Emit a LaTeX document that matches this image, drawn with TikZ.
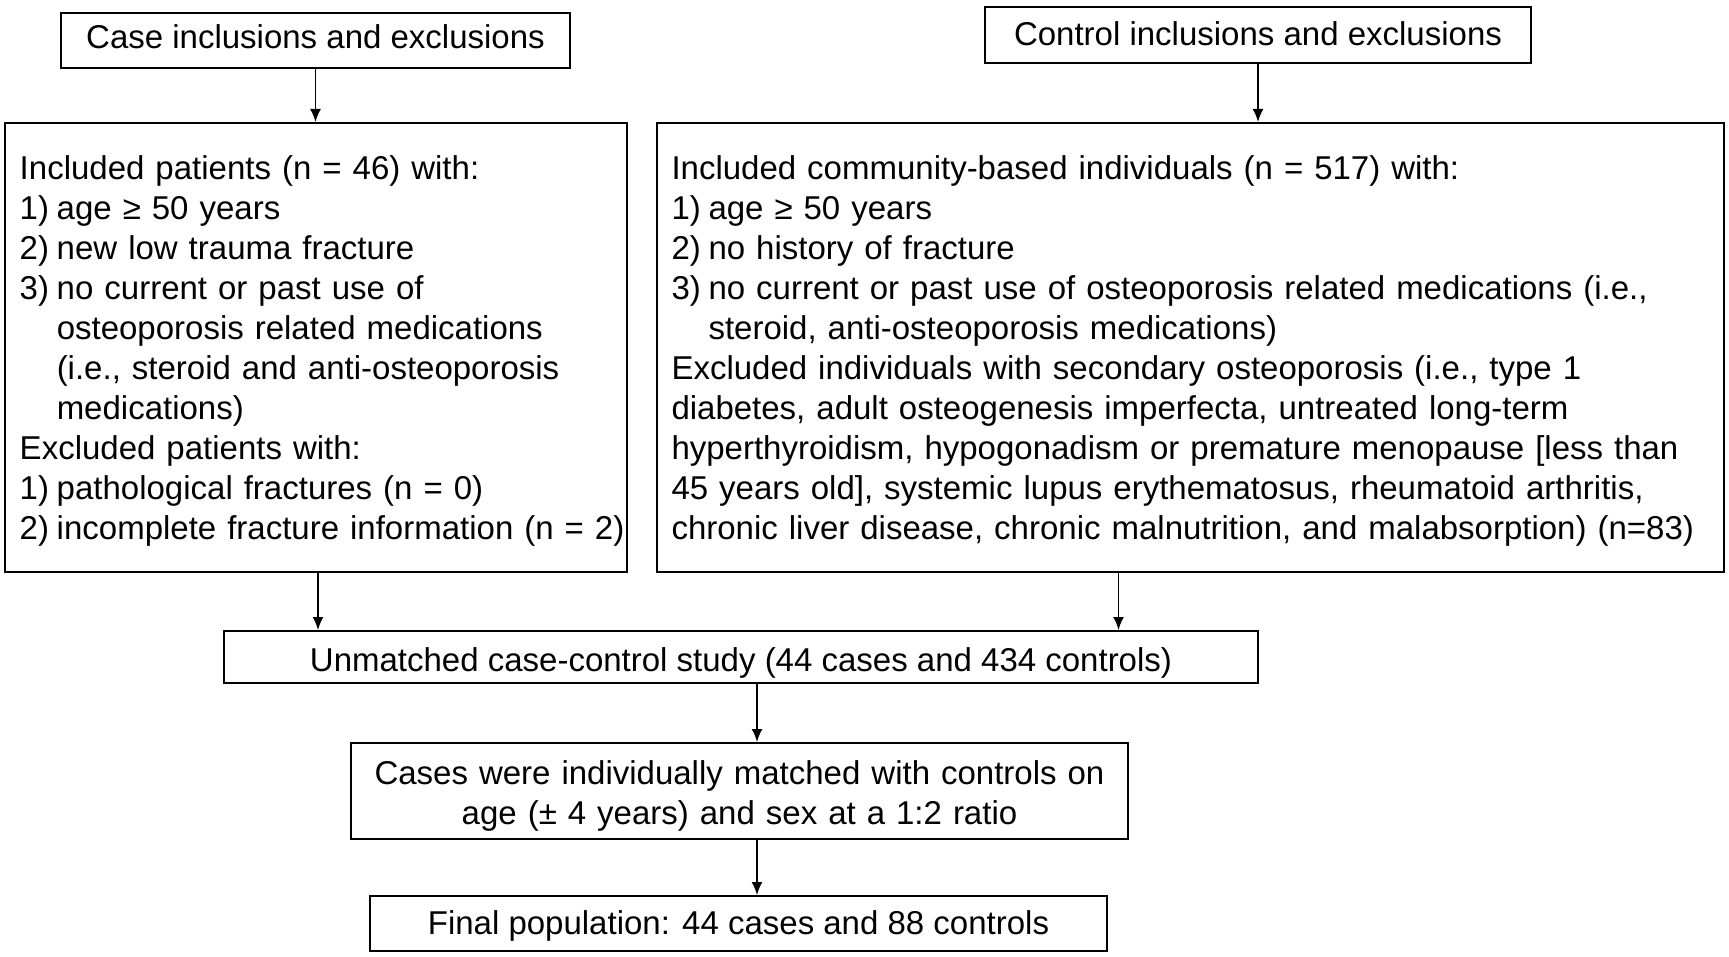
\documentclass[tikz,border=0pt]{standalone}
\usepackage{fontspec}
\setmainfont{Liberation Sans}
\usetikzlibrary{arrows.meta,positioning}

\newcommand{\itm}[2]{\makebox[18.5pt][l]{#1}#2}
\newcommand{\skipitem}{\hspace*{18.5pt}}
\newcommand{\topstrut}[1]{\rule{0pt}{#1}}

\begin{document}
\begin{tikzpicture}[
    x=0.5pt, y=-0.5pt,
    box/.style={rectangle, draw, line width=1pt, inner sep=0pt, font=\fontsize{16.5}{20}\selectfont},
    head/.style={box, align=center, text depth=3.5pt, text height=#1},
    listbox/.style={box, align=left, text width=#1, inner xsep=7.25pt, minimum height=224.5pt},
    flow/.style={-{Latex[length=6.5pt,width=5.5pt]}, line width=0.9pt}
]
    \useasboundingbox[fill=white] (0,0) rectangle (1729,957);

    \node[head=11.2pt, minimum width=254.5pt, minimum height=27.5pt] (casehead) at (315.5,40.5) {Case inclusions and exclusions};
    \node[head=14.4pt, minimum width=273pt, minimum height=28pt] (ctrlhead) at (1258,35) {Control inclusions and exclusions};

    \node[listbox=296.25pt] (casebox) at (316,347.5) {\topstrut{15.3pt}Included patients (n = 46) with:\\
        \itm{1)}{age ≥ 50 years}\\
        \itm{2)}{new low trauma fracture}\\
        \itm{3)}{no current or past use of}\\
        \skipitem osteoporosis related medications\\
        \skipitem (i.e., steroid and anti-osteoporosis\\
        \skipitem medications)\\
        Excluded patients with:\\
        \itm{1)}{pathological fractures (n = 0)}\\
        \mbox{\itm{2)}{incomplete fracture information (n = 2)}}};
    \node[listbox=519pt] (ctrlbox) at (1190.5,347.5) {\topstrut{15.3pt}Included community-based individuals (n = 517) with:\\
        \itm{1)}{age ≥ 50 years}\\
        \itm{2)}{no history of fracture}\\
        \mbox{\itm{3)}{no current or past use of osteoporosis related medications (i.e.,}}\\
        \skipitem steroid, anti-osteoporosis medications)\\
        Excluded individuals with secondary osteoporosis (i.e., type 1\\
        diabetes, adult osteogenesis imperfecta, untreated long-term\\
        hyperthyroidism, hypogonadism or premature menopause [less than\\
        45 years old], systemic lupus erythematosus, rheumatoid arthritis,\\
        \mbox{chronic liver disease, chronic malnutrition, and malabsorption) (n=83)}};

    \node[head=17.8pt, minimum width=517pt, minimum height=26pt] (unmatched) at (741,657) {Unmatched case-control study (44 cases and 434 controls)};
    \node[box, align=center, text width=388.5pt, minimum height=48pt] (matched) at (739.5,791) {\topstrut{16.6pt}Cases were individually matched with controls on\\age (± 4 years) and sex at a 1:2 ratio};
    \node[head=14.7pt, minimum width=368.5pt, minimum height=27.5pt] (final) at (738.5,923.5) {Final population: 44 cases and 88 controls};

    \draw[flow] (casehead.south) -- (casehead.south |- casebox.north);
    \draw[flow] (ctrlhead.south) -- (ctrlhead.south |- ctrlbox.north);
    \draw[flow] ([xshift=1pt]casebox.south) -- ([xshift=1pt]casebox.south |- unmatched.north);
    \draw[flow] ([xshift=-36pt]ctrlbox.south) -- ([xshift=-36pt]ctrlbox.south |- unmatched.north);
    \draw[flow] ([xshift=8pt]unmatched.south) -- ([xshift=8pt]unmatched.south |- matched.north);
    \draw[flow] ([xshift=8.75pt]matched.south) -- ([xshift=8.75pt]matched.south |- final.north);
\end{tikzpicture}
\end{document}
